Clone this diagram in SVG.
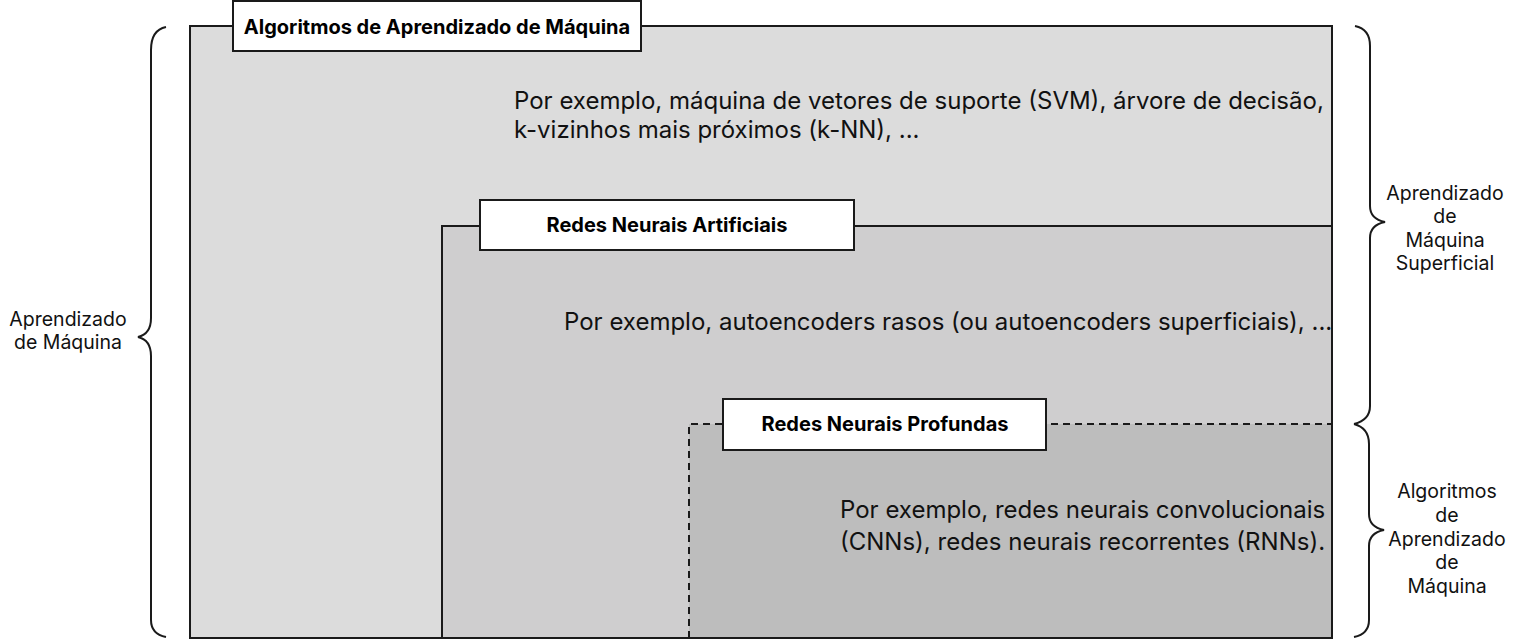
<svg xmlns="http://www.w3.org/2000/svg" width="1524" height="639" viewBox="0 0 1524 639">
<style>
.frame{stroke:#1a1a1a;stroke-width:2}
.lbl{fill:#fff;stroke:#1a1a1a;stroke-width:2}
.title{font-family:Inter,"Liberation Sans",sans-serif;font-weight:bold;font-size:20px;fill:#000;text-anchor:middle}
.body{font-family:Inter,"Liberation Sans",sans-serif;font-size:24px;fill:#111}
.side{font-family:Inter,"Liberation Sans",sans-serif;font-size:19.5px;fill:#111;text-anchor:middle}
.brace{fill:none;stroke:#1a1a1a;stroke-width:2}
</style>
<rect width="1524" height="639" fill="#fff"/>
<g id="ml">
<rect class="frame" x="190" y="26" width="1142" height="612" fill="#dcdcdc"/>
<rect class="lbl" x="233" y="1" width="408" height="50"/>
<text class="title" x="437" y="34">Algoritmos de Aprendizado de Máquina</text>
<text class="body" x="514" y="109">Por exemplo, máquina de vetores de suporte (SVM), árvore de decisão,</text>
<text class="body" x="514" y="138">k-vizinhos mais próximos (k-NN), ...</text>
</g>
<g id="ann">
<rect class="frame" x="442" y="226" width="890" height="412" fill="#cfcecf"/>
<rect class="lbl" x="480" y="200" width="374" height="50"/>
<text class="title" x="667" y="232">Redes Neurais Artificiais</text>
<text class="body" x="564" y="330">Por exemplo, autoencoders rasos (ou autoencoders superficiais), ...</text>
</g>
<g id="dnn">
<rect x="689" y="424" width="643" height="214" fill="#bdbdbd"/>
<path d="M689,638 V424 H1332" fill="none" stroke="#1a1a1a" stroke-width="2" stroke-dasharray="7,5"/>
<path d="M1332,424 V638 H689" fill="none" stroke="#1a1a1a" stroke-width="2"/>
<rect class="lbl" x="723" y="399" width="323" height="51"/>
<text class="title" x="885" y="431">Redes Neurais Profundas</text>
<text class="body" x="840" y="518">Por exemplo, redes neurais convolucionais</text>
<text class="body" x="840" y="550">(CNNs), redes neurais recorrentes (RNNs).</text>
</g>
<g id="braces">
<path class="brace" d="M166,27 Q151,30 151,50 V318 Q151,334 138,337 Q151,340 151,356 V620 Q151,634 166,637"/>
<path class="brace" d="M1355,26 Q1370,29 1370,46 V206 Q1370,219 1385,222 Q1370,225 1370,238 V406 Q1370,420 1354,424"/>
<path class="brace" d="M1354,424 Q1369,428 1369,444 V514 Q1369,527 1384,530 Q1369,533 1369,546 V620 Q1369,634 1354,637"/>
</g>
<g id="labels">
<text class="side" x="68" y="326">Aprendizado</text>
<text class="side" x="68" y="349">de Máquina</text>
<text class="side" x="1445" y="200">Aprendizado</text>
<text class="side" x="1445" y="223">de</text>
<text class="side" x="1445" y="247">Máquina</text>
<text class="side" x="1445" y="270">Superficial</text>
<text class="side" x="1447" y="498">Algoritmos</text>
<text class="side" x="1447" y="522">de</text>
<text class="side" x="1447" y="546">Aprendizado</text>
<text class="side" x="1447" y="569">de</text>
<text class="side" x="1447" y="593">Máquina</text>
</g>
</svg>
